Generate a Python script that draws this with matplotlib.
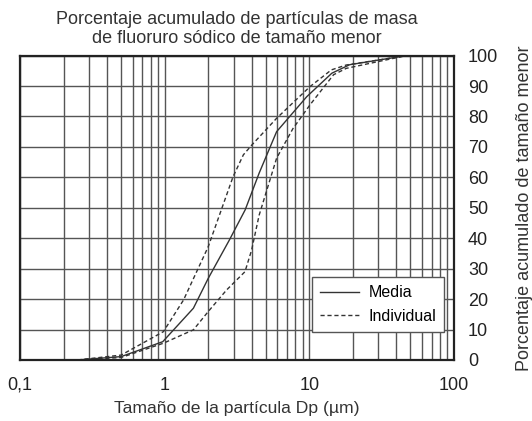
import numpy as np
import matplotlib
matplotlib.use("Agg")
import matplotlib.pyplot as plt
from matplotlib.ticker import LogLocator, FixedLocator, FuncFormatter, NullFormatter

plt.rcParams['font.family'] = ['Liberation Sans', 'DejaVu Sans']

# Media curve
media_x = [0.25, 0.5, 0.97, 1.58, 2.0, 2.8, 3.6, 4.5, 5.94, 9.6, 14.3, 19, 47]
media_y = [0, 1.1, 6.0, 17.0, 26.8, 39.4, 49.3, 61.4, 75, 86.5, 94.2, 97, 100]

# Individual - upper bound
ind_up_x = [0.25, 0.5, 0.98, 1.35, 2.0, 2.97, 3.5, 4.0, 5.94, 10.1, 14.2, 18, 47]
ind_up_y = [0, 1.6, 9.3, 19.7, 37.2, 60.2, 67.4, 70.6, 79.4, 89.8, 95.3, 96.9, 100]

# Individual - lower bound
ind_lo_x = [0.25, 0.5, 0.98, 1.58, 2.0, 2.68, 3.59, 3.99, 4.5, 5.94, 7.7, 10.1, 14.7, 18, 47]
ind_lo_y = [0, 0.8, 5.5, 9.9, 15.9, 23, 29, 36.1, 47.6, 66.3, 76, 83.8, 93.7, 95.8, 100]

x_ticks = [0.1, 1, 10, 100]
x_ticklabels = ["0,1", "1", "10", "100"]
y_ticks = list(range(0, 101, 10))

fig = plt.figure(figsize=(5.32, 4.21), dpi=100)
ax = fig.add_axes([0.0376, 0.145, 0.8158, 0.723])

line_col = "#333333"
ax.plot(media_x, media_y, color=line_col, lw=1.0, label="Media")
ax.plot(ind_up_x, ind_up_y, color=line_col, lw=1.0, dashes=(3, 2), label="Individual")
ax.plot(ind_lo_x, ind_lo_y, color=line_col, lw=1.0, dashes=(3, 2))

ax.set_xscale("log")
ax.set_xlim(0.1, 100)
ax.set_ylim(0, 100)

ax.xaxis.set_major_locator(FixedLocator(x_ticks))
ax.xaxis.set_major_formatter(FuncFormatter(lambda v, p: x_ticklabels[x_ticks.index(v)] if v in x_ticks else ""))
ax.xaxis.set_minor_locator(LogLocator(base=10, subs=np.arange(2, 10)))
ax.xaxis.set_minor_formatter(NullFormatter())
ax.set_yticks(y_ticks)

ax.yaxis.tick_right()
ax.yaxis.set_label_position("right")
ax.tick_params(which="both", length=0)
ax.tick_params(axis="x", pad=12, labelsize=13, labelcolor="#222222")
ax.tick_params(axis="y", pad=10, labelsize=13, labelcolor="#222222")

ax.grid(which="both", color="#555555", lw=1.0)
ax.set_axisbelow(True)
for s in ax.spines.values():
    s.set_linewidth(1.6)
    s.set_color("#222222")

ax.set_xlabel("Tamaño de la partícula Dp (µm)", fontsize=12.6, color="#333333", labelpad=5)
ax.set_ylabel("Porcentaje acumulado de tamaño menor", fontsize=13, color="#333333", labelpad=13)
ax.set_title("Porcentaje acumulado de partículas de masa\nde fluoruro sódico de tamaño menor",
             fontsize=13, color="#333333", pad=9, linespacing=1.15)

leg = ax.legend(loc="lower right", bbox_to_anchor=(0.977, 0.092), borderaxespad=0,
                fontsize=11.5, handlelength=2.4, handletextpad=0.6,
                frameon=True, fancybox=False, framealpha=1, edgecolor="#555555",
                borderpad=0.5, labelspacing=0.55)
leg.get_frame().set_linewidth(1.0)

fig.savefig("out.png", dpi=100)
